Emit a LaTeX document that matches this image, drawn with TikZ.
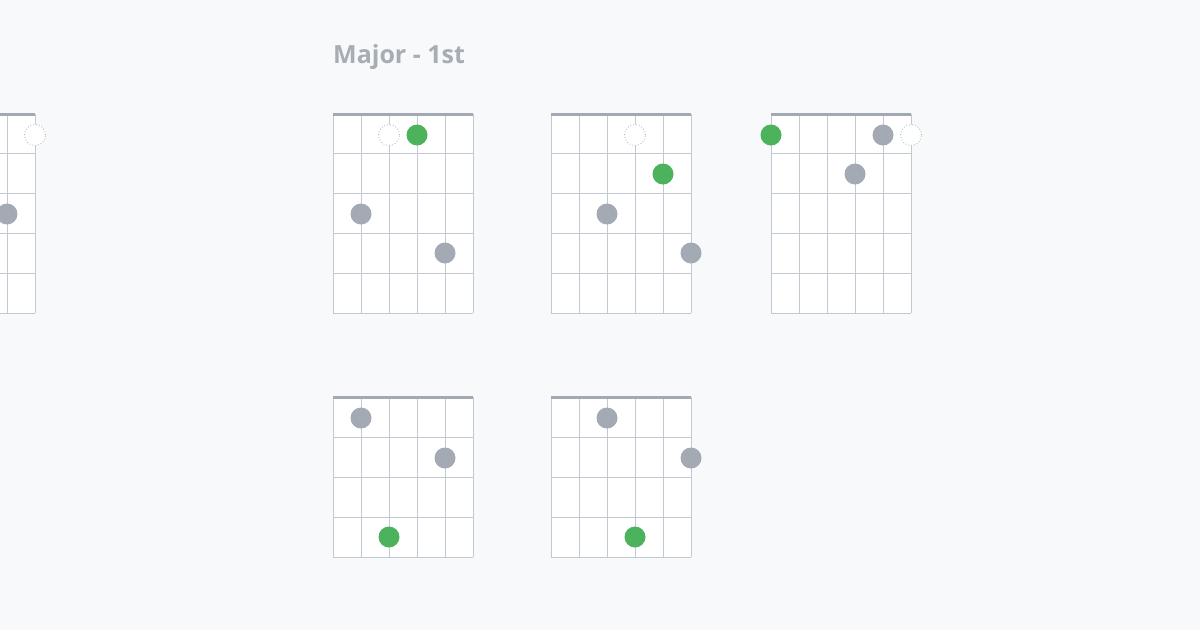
\documentclass[tikz,border=0pt]{standalone}
\usepackage{fontspec}
\setmainfont{Open Sans}
\definecolor{bgc}{HTML}{F8F9FB}
\definecolor{gridc}{HTML}{C3C9D0}
\definecolor{nutc}{HTML}{A3A9B2}
\definecolor{dotgray}{HTML}{A3AAB4}
\definecolor{dotgreen}{HTML}{4CB25C}
\definecolor{titlec}{HTML}{A7ACB5}
\definecolor{openc}{HTML}{B8BEC6}
\definecolor{opengreen}{HTML}{9FD2A8}
\tikzset{
  gridline/.style={draw=gridc, line width=1pt},
  nutline/.style={draw=nutc, line width=3pt},
  graydot/.style={circle, fill=dotgray, minimum size=21pt, inner sep=0pt},
  greendot/.style={circle, fill=dotgreen, minimum size=21pt, inner sep=0pt},
  opendot/.style={circle, fill=white, draw=openc, dotted, line width=0.9pt, minimum size=21pt, inner sep=0pt},
}
\newcommand\fboard[4]{% x0, y0, rows, rowheight
  \fill[white] (#1,#2) rectangle ++(140,{#3*#4});
  \foreach \i in {0,...,5} \draw[gridline] ({#1+28*\i},#2) -- ++(0,{#3*#4});
  \foreach \j in {1,...,#3} \draw[gridline] (#1,{#2+#4*\j}) -- ++(140,0);
  \draw[nutline] (#1,#2) -- ++(140,0);
}
\begin{document}
\begin{tikzpicture}[x=1pt,y=-1pt]
\useasboundingbox (0,0) rectangle (1200,630);
\fill[bgc] (0,0) rectangle (1200,630);
\clip (0,0) rectangle (1200,630);

\node[anchor=base west, text=titlec, font=\bfseries\fontsize{25}{30}\selectfont, inner sep=0pt] (title) at (333,63) {Major - 1st};

% row 1
\fboard{-105}{114}{5}{39.8}
\fboard{333}{114}{5}{39.8}
\fboard{551}{114}{5}{39.8}
\fboard{771}{114}{5}{39.8}
% row 2
\fboard{333}{397}{4}{40}
\fboard{551}{397}{4}{40}

% partial board
\node[opendot] (p0) at (35,135) {};
\node[graydot] (p1) at (7,214) {};

% board 1
\node[opendot] (a0) at (389,135) {};
\node[greendot] (a1) at (417,135) {};
\node[graydot] (a2) at (361,214) {};
\node[graydot] (a3) at (445,253) {};

% board 2
\node[opendot] (b0) at (635,135) {};
\node[greendot] (b1) at (663,174) {};
\node[graydot] (b2) at (607,214) {};
\node[graydot] (b3) at (691,253) {};

% board 3
\node[greendot] (c0) at (771,135) {};
\node[graydot] (c1) at (883,135) {};
\node[opendot, draw=opengreen] (c2) at (911,135) {};
\node[graydot] (c3) at (855,174) {};

% row 2 board 1
\node[graydot] (d0) at (361,418) {};
\node[graydot] (d1) at (445,458) {};
\node[greendot] (d2) at (389,537) {};

% row 2 board 2
\node[graydot] (e0) at (607,418) {};
\node[graydot] (e1) at (691,458) {};
\node[greendot] (e2) at (635,537) {};
\end{tikzpicture}
\end{document}
